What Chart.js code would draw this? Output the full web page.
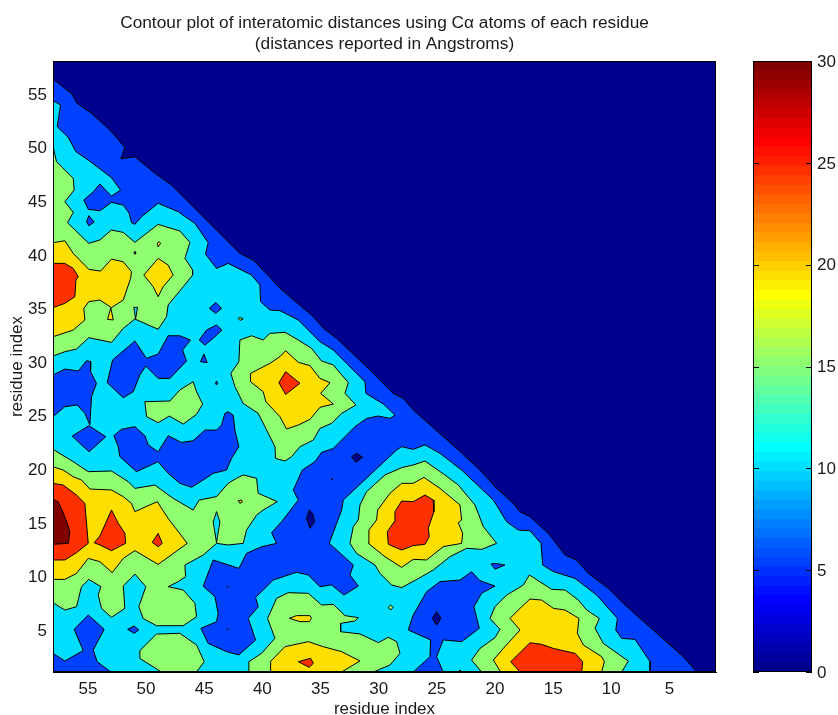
<!DOCTYPE html>
<html>
<head>
<meta charset="utf-8">
<title>Contour plot</title>
<script src="https://cdn.jsdelivr.net/npm/chart.js@4"></script>
<style>
   body { margin: 0; background: #fff; }
   #contour { position: absolute; left: 0; top: 0; }
   #colorbar { position: absolute; left: 720px; top: 0; }
</style>
</head>
<body>
<canvas id="contour" width="838" height="715"></canvas>
<canvas id="colorbar" width="118" height="715"></canvas>
<script>
// contour outlines, [residue x, residue y]
const plotArea = [[58,1],[1,1],[1,58],[58,58]];

const blueMain = [[58,56.31],[56.41,54.98],[55.98,54.11],[54.69,53.11],[53.11,51.56],[51.82,49.94],[52.16,48.88],[50.96,49.07],
   [49.24,47.52],[47.81,46.43],[45.37,43.78],[41.93,40.05],[40.79,39.43],[39.35,37.82],[38.49,36.79],[35.62,34.15],[34.76,33.06],
   [33.62,32.13],[31.04,29.48],[28.75,26.99],[27.89,26.53],[27.03,25.44],[23.3,21.86],[21.29,19.84],[19.86,18.13],[18.42,16.73],
   [17.85,15.95],[16.99,15.49],[15.41,13.93],[13.98,11.91],[12.98,11.44],[11.97,10.2],[10.24,8.8],[8.97,7.4],[7.53,6],[3.81,2.43],
   [2.66,1],[58,1]];

const cyanMain = [[58,54.3],[57.35,53.89],[57.64,51.87],[56.69,50.87],[56.03,49.54],[54.97,48.76],[52.97,47.11],[52.19,45.96],
   [52.97,45.4],[53.97,46.52],[54.54,45.8],[55.35,45.03],[54.97,44.16],[53.97,44.03],[52.97,44.81],[51.96,44.56],[51.45,43.78],
   [51.25,42.91],[50.96,42.76],[50.39,43.47],[48.96,44.72],[47.24,43.94],[45.8,42.85],[44.66,41.05],[44.89,39.99],[43.94,38.65],
   [42.94,39.12],[40.93,38.03],[40.21,37.1],[40.16,35.55],[39.35,34.77],[38.49,34.71],[36.91,33.84],[35.05,31.81],[33.9,31.04],
   [32.76,29.79],[31.18,28.08],[31.1,26.99],[29.6,26],[28.6,24.97],[29.03,24.66],[30.03,24.88],[31.04,24.66],[32.04,23.89],
   [32.9,22.95],[33.9,21.86],[34.91,21.49],[35.48,20.62],[36.57,19.84],[37.34,17.98],[36.91,17.05],[38.35,15.02],[39.21,13.99],
   [38.78,13],[40.07,12.69],[41.36,12.07],[42.02,10.67],[44.23,11.45],[45.09,9],[44.08,8.03],[43.8,6.47],[43.94,5.69],[45.29,5.07],
   [44.66,3.67],[43.08,2.9],[42.02,2.59],[40.58,3.98],[41.21,6],[40.35,7.09],[40.58,7.96],[39.06,9.58],[37.06,10.3],[36.05,10.05],
   [35.05,8.96],[34.05,9.12],[32.99,8.18],[31.75,9.02],[32.47,10.05],[32.18,10.98],[34.25,13],[33.19,16.11],[33.04,17.05],
   [28.46,21.71],[28.03,22.02],[27.03,21.77],[26.02,22.18],[24.73,21.4],[22.87,19.84],[21.29,18.22],[20.14,17.04],[19,15.02],
   [17.99,14.24],[16.99,14.18],[16.05,13],[15.9,10.98],[14.98,10.36],[13.12,9.73],[11.26,8.18],[9.48,6],[9.62,4.91],[9.11,4.14],
   [7.96,4.04],[6.67,1.96],[6.67,1],[58,1]];

const blueEdge = [[58,28.71],[56.98,29.26],[55.83,29.08],[55.12,30.04],[54.74,29.95],[54.77,29.02],[54.26,27.93],[54.69,26.68],
   [54.83,24.04],[55.26,25.13],[55.92,25.91],[56.98,25.75],[58,24.82]];
const blueDiamond = [[54.92,23.98],[53.46,22.95],[54.89,21.55],[55.55,22.18],[56.35,23.01]];
const blueButterfly = [[53.34,27.99],[52.88,30.1],[50.96,31.88],[49.96,30.26],[48.96,30.66],[48.1,32.37],[47.09,32.37],[46.18,31.97],
   [46.86,31.04],[46.52,30.01],[47.95,28.39],[48.96,28.39],[50.02,29.54],[50.53,28.71],[51.1,27.15],[51.96,26.59]];
const blueSpot1 = [[44.57,34.92],[44,35.48],[43.51,34.92],[44,34.46]];
const blueSpot2 = [[45.43,31.97],[44.8,32.9],[43.94,33.37],[43.48,32.9],[44.23,32.13],[44.94,31.5]];
const blueSpot3 = [[45.32,29.95],[45.03,30.66],[44.74,29.86]];
const blueSpot4 = [[44.03,27.93],[43.94,28.15],[43.85,27.93],[43.94,27.77]];
const blueSpot5 = [[55.12,43],[54.92,43.57],[54.46,42.97],[54.92,42.63]];
const blueSpot6 = [[51.59,4.98],[51.02,5.29],[50.62,4.92],[51.02,4.61]];
const blueSpot7 = [[20.34,11.07],[20,11.13],[19.14,10.98],[20,10.6]];
const blueSpot8 = [[23.16,1],[23.01,1.19],[22.87,1]];
const blueBasin = [[52.77,23.05],[52.11,23.64],[50.96,23.89],[50.1,23.05],[49.81,22.18],[48.96,21.55],[48.1,23.05],[46.95,22.42],
   [45.95,22.58],[44.94,23.57],[43.94,23.57],[43.51,24.04],[43.22,25.13],[42.94,25.28],[42.51,24.97],[42.36,23.57],[42.02,22.02],
   [42.65,20.93],[43.08,19.84],[44.23,19.53],[45.09,18.91],[46.09,18.23],[47.09,18.6],[48.1,19.53],[48.96,20.62],[50.82,19.69],
   [52.25,21.09],[52.39,22.02]];
const blueCorner = [[58,2.74],[56.98,2.03],[55.4,3],[56.18,4.98],[54.97,6.32],[53.6,4.98],[54.54,3.05],[54.2,1.96],[53.02,1],[58,1]];
const blueBottom = [[22.01,10.36],[21.29,9.52],[20,9.02],[21.15,8.34],[21.81,7.09],[21.35,5.07],[22.87,3.83],[24.45,3.99],[25.02,2.43],
   [24.45,1],[27.03,1],[25.59,2.43],[25.54,3.99],[27.46,4.92],[27.03,6.32],[25.88,8.49],[24.73,9.43],[23.01,9.58]];

const navySpot1 = [[32.33,21.09],[31.9,21.4],[31.38,21.03],[31.96,20.56]];
const navySpot2 = [[36.2,15.34],[35.97,16.11],[35.68,15.8],[35.51,15.02],[35.91,14.4]];
const navySpot3 = [[25.02,6.63],[24.65,6.01],[25.02,5.38],[25.39,6.01]];
const navySpot4 = [[34.05,18.97],[34,19.03],[33.95,18.97],[34,18.91]];
const navySpot5 = [[43.05,8.96],[43,9.02],[42.95,8.96],[43,8.9]];
const navySpot6 = [[43.05,4.98],[43,5.04],[42.95,4.98],[43,4.92]];

const greenUpper = [[58,50.07],[57.7,48.6],[56.26,47.05],[56.18,45.96],[56.98,44.87],[56.26,43.88],[56.75,42.91],[54.92,40.99],[53.97,41.3],
   [52.97,42.23],[51.96,42.01],[50.96,41.08],[48.96,42.76],[47.09,42.14],[46.23,41.08],[46.66,39.59],[46,38.5],[46,38.03],[46.8,36.95],
   [48.1,35.24],[48.24,34.15],[48.96,32.97],[50.96,33.93],[51.96,33.06],[52.97,31.75],[54.92,32.19],[55.98,31.13],[56.98,30.88],[58,30.48]];
const greenIsland = [[50.1,26.22],[47.95,26.28],[47.09,27.31],[45.95,28.08],[45.66,27.15],[45.14,26],[45.66,25.04],[46.8,24.13],[48,24.88],
   [48.96,24.26],[49.96,24.82]];
const greenLower = [[58,21.77],[56.26,20.62],[54.97,19.69],[52.97,19.75],[51.53,18.75],[50.96,18.13],[49.24,18.44],[47.67,17.2],[45.95,16.11],
   [45.43,17.04],[43.94,17.36],[42.94,18.6],[42.22,19.07],[41.65,19.38],[40.5,19.07],[40.36,17.67],[38.72,16.89],[39.93,16.11],[40.5,15.64],
   [41.36,14.25],[41.65,13],[42.94,12.85],[43.94,13],[45.09,11.91],[46.66,10.98],[46.6,9.89],[47.24,9.43],[48.1,8.96],[46.81,8.65],[45.8,7.41],
   [45.66,6.16],[46.81,5.32],[48.1,5.32],[49.1,5.32],[50.25,6],[50.62,7.09],[50.02,8.96],[50.96,10.14],[51.96,9.02],[51.82,6.94],[52.97,6.1],
   [53.83,6.94],[54.11,8.18],[53.88,8.96],[54.92,9.64],[55.55,8.96],[55.98,7.09],[56.98,6.78],[58,7.47]];
const greenBase = [[50.53,2.99],[49.1,4.54],[47.09,4.61],[45.66,3.52],[45,1.96],[45.66,1],[48.67,1],[50.53,2.27]];
const greenPeakA = [[39.93,31.97],[40.93,32.37],[41.93,31.97],[42.02,29.95],[42.71,28.86],[42.36,27.62],[41.65,26.06],[40.36,25.13],[39.78,23.89],
   [38.92,22.02],[38.87,20.93],[38.06,20.68],[37.49,21.09],[36.77,22.02],[35.62,22.64],[35.05,23.73],[34.05,24.2],[33.19,25.13],[31.96,25.91],
   [32.9,27],[32.61,27.99],[33.9,29.64],[34.91,30.01],[35.77,31.19],[36.91,31.97],[38.06,32.69],[39.35,32.59]];
const greenPeakB = [[26.02,20.68],[24.3,19.38],[23.16,18.44],[21.72,16.58],[21,14.56],[19.86,13],[21.15,12.44],[22.44,12.54],[23.87,11.76],[25.31,10.52],
   [26.31,9.89],[28.03,8.87],[28.89,9.12],[29.89,10.21],[30.32,10.98],[31.9,12.07],[32.47,13],[32.18,14.56],[31.75,15.18],[31.61,16.58],[31.04,17.82],
   [29.46,19.38],[28.03,20.06],[27.03,20.31]];
const greenPeakC = [[41.16,1],[41.16,1.96],[40.07,2.74],[38.92,4.14],[39.55,6],[38.78,7.87],[37.77,8.4],[36.05,8.34],[34.91,7.25],[33.9,7.31],[32.9,6.26],
   [31.75,6.07],[32.04,5.76],[33.27,5.54],[33.27,4.76],[31.61,4.55],[30.03,3.74],[29.17,4.24],[28.46,3.83],[28.17,2.74],[29.03,1.65],[30.46,1]];
const greenPeakD = [[17.05,10.05],[15.13,8.71],[13.98,8.65],[12.84,7.71],[12.12,6.78],[11.03,6],[11.4,5.07],[10.69,3.67],[8.54,2.02],[9.11,1],[21.15,1],
   [22.01,2.12],[21.29,3.2],[20,4.2],[19.57,4.98],[20.43,6],[20,7.09],[19,8.18],[17.56,9.11]];
const greenSpot1 = [[42.08,33.99],[41.93,34.08],[41.65,33.93],[41.93,33.8]];
const greenSpot2 = [[29.17,7.03],[28.97,7.25],[28.75,7.03],[28.97,6.78]];

const cyanNotch1 = [[43.94,15.96],[43.65,15],[43.94,13.06],[44.23,15]];
const cyanNotch2 = [[51.05,35.02],[50.73,35.02],[50.9,33.93]];
const cyanSpot = [[51.02,40.2],[50.9,40.2],[50.9,40],[51.02,40]];

const yellowUpper = [[58,41.05],[56.98,41.23],[56.26,40.05],[54.92,38.56],[53.91,38.4],[52.97,39.52],[51.96,39.27],[51.25,38.34],[51.33,37.72],[51.96,35.7],
   [52.97,34.99],[53.97,35.7],[54.92,35.55],[55.35,34.92],[55.26,33.84],[56.26,32.9],[58,32.28]];
const yellowSpike = [[53.31,33.9],[53.03,34.99],[52.82,33.84]];
const yellowKite = [[50.19,38.03],[48.96,39.59],[48.1,38.96],[47.67,38.03],[48.53,36.95],[48.96,36.01],[49.39,36.95]];
const yellowSpot1 = [[49.04,40.99],[48.87,41.14],[48.75,40.99],[48.96,40.67]];
const yellowSpot2 = [[42.08,16.98],[41.79,17.04],[41.73,16.86],[41.93,16.73]];
const yellowPeakA = [[38,30.97],[36.91,29.89],[35.91,29.58],[35.05,28.39],[34.19,27.99],[34.99,26.99],[33.9,26],[35.05,25.69],[35.91,24.57],[36.91,24.04],
   [37.92,23.67],[38.49,24.82],[39.7,26.22],[39.93,27.15],[41.02,28.08],[41.02,28.86],[39.35,29.79],[38.49,30.42]];
const yellowPeakB = [[26.11,19.16],[24.73,18.13],[23.01,16.58],[22.87,15.18],[23.16,14.93],[22.78,13.94],[22.87,13],[24.45,12.69],[25.88,11.45],[27.03,11.51],
   [28.03,10.76],[29.46,11.76],[30.89,13],[30.84,14.25],[30.18,15.18],[30.09,16.11],[29.03,17.67],[28.03,18.6],[27.03,18.6]];
const yellowLower = [[58,20.15],[57.12,19.84],[56.26,19.22],[55.55,18.91],[54.83,18.07],[52.97,17.98],[51.96,17.36],[51.25,16.73],[50.96,15.96],[49.04,16.89],
   [48.1,15.33],[46.46,13],[48.96,11.04],[50.96,12.32],[51.96,11.6],[52.91,10.27],[53.97,11.29],[54.97,11.6],[55.98,10.2],[56.98,9.64],[58,9.64]];
const yellowPeakC = [[39.29,1],[39.29,2],[38.06,3.36],[36.05,3.83],[34.76,3.36],[33.19,2.9],[31.61,2.03],[33.19,1]];
const yellowDrop = [[37.69,6.01],[37.06,6.26],[35.91,6.26],[35.77,6.01],[35.97,5.7],[36.77,5.7]];
const yellowPeakD = [[16.99,7.81],[15.99,7.71],[14.98,6.94],[13.98,6.78],[12.78,6],[12.92,4.6],[12.4,3.52],[10.83,2.43],[10.6,1.96],[10.83,1],[19.51,1],
   [20.14,2.12],[19.28,3.2],[17.85,4.92],[18.71,6],[17.71,7.09]];

const redUpper = [[58,39.12],[56.98,39.12],[56.26,38.65],[55.83,37.88],[56.03,37.57],[56.12,36.01],[56.98,35.39],[58,34.99]];
const redPeakA = [[38.58,27.99],[38,29.02],[36.77,27.93],[38,26.9]];
const redPeakB = [[26.02,17.51],[25.31,17.05],[25.25,15.96],[25.74,14.4],[25.65,13.63],[26.02,12.91],[27.03,12.79],[28.03,12.38],[29.17,12.91],[29.26,14.09],
   [28.66,15.02],[28.6,15.96],[28.03,16.95],[27.03,16.89]];
const redLeft = [[58,18.6],[57.12,18.44],[55.98,17.51],[55.26,16.73],[54.97,13],[55.98,12.13],[56.98,11.45],[58,11.45]];
const redMid = [[54.46,13.06],[53.97,13.69],[52.97,16.11],[52.39,14.87],[51.82,13.94],[51.76,13],[52.97,12.32],[53.97,12.85]];
const redSmall = [[49.47,13.1],[48.96,13.93],[48.61,13],[48.96,12.69]];
const redDrop = [[36.91,1.96],[35.85,2.28],[35.62,1.81],[35.97,1.44]];
const redPeakD = [[16.99,3.73],[15.99,3.58],[14.98,3.2],[13.12,2.74],[12.46,1.96],[12.55,1],[17.85,1],[18.65,1.96]];
const darkRedCore = [[58,17.11],[57.55,16.89],[56.98,15.49],[56.55,14.09],[56.69,13],[58,12.91]];

// paint order, later ones go on top
const regions = [
   [0, plotArea], [5, blueMain], [10, cyanMain],
   [5, blueEdge], [5, blueDiamond], [5, blueButterfly], [5, blueSpot1], [5, blueSpot2], [5, blueSpot3], [5, blueSpot4], [5, blueSpot5],
   [5, blueSpot6], [5, blueSpot7], [5, blueSpot8], [5, blueBasin], [5, blueCorner], [5, blueBottom],
   [0, navySpot1], [0, navySpot2], [0, navySpot3], [0, navySpot4], [0, navySpot5], [0, navySpot6],
   [15, greenUpper], [15, greenIsland], [15, greenLower], [15, greenBase], [15, greenPeakA], [15, greenPeakB], [15, greenPeakC], [15, greenPeakD],
   [15, greenSpot1], [15, greenSpot2],
   [10, cyanNotch1], [10, cyanNotch2], [10, cyanSpot],
   [20, yellowUpper], [20, yellowSpike], [20, yellowKite], [20, yellowSpot1], [20, yellowSpot2], [20, yellowPeakA], [20, yellowPeakB], [20, yellowLower],
   [20, yellowPeakC], [20, yellowDrop], [20, yellowPeakD],
   [25, redUpper], [25, redPeakA], [25, redPeakB], [25, redLeft], [25, redMid], [25, redSmall], [25, redDrop], [25, redPeakD],
   [30, darkRedCore],
];

const levelColors = { 0: "#00008f", 5: "#0040ff", 10: "#00dfff", 15: "#8fff70", 20: "#ffdf00", 25: "#ff3000", 30: "#800000" };

const xTickValues = [5, 10, 15, 20, 25, 30, 35, 40, 45, 50, 55];
const yTickValues = [5, 10, 15, 20, 25, 30, 35, 40, 45, 50, 55];
const colorbarTicks = [0, 5, 10, 15, 20, 25, 30];
const colorbarEdges = [0,0.47,0.94,1.41,1.88,2.34,2.81,3.28,3.75,4.22,4.69,5.16,5.63,6.09,6.56,7.03,7.5,7.97,8.44,8.91,9.38,9.84,10.31,10.78,11.25,11.72,
   12.19,12.66,13.13,13.59,14.06,14.53,15,15.47,15.94,16.41,16.88,17.34,17.81,18.28,18.75,19.22,19.69,20.16,20.63,21.09,21.56,22.03,22.5,22.97,23.44,23.91,
   24.38,24.84,25.31,25.78,26.25,26.72,27.19,27.66,28.13,28.59,29.06,29.53,30];

const fontName = '"Liberation Sans", Arial, sans-serif';
const labelColor = "#1a1a1a";

function jetColor(i) {
   const clamp = (v) => Math.round(Math.max(0, Math.min(1, v)) * 255);
   const t = (i + 1) / 16;
   return `rgb(${clamp(Math.min(t - 1.5, 4.5 - t))},${clamp(Math.min(t - 0.5, 3.5 - t))},${clamp(Math.min(t + 0.5, 2.5 - t))})`;
}

const framePlugin = {
   id: "frame",
   afterDraw(chart) {
      const { ctx, chartArea: a } = chart;
      ctx.save();
      ctx.strokeStyle = "#000";
      ctx.lineWidth = 1;
      ctx.strokeRect(a.left + 0.5, a.top + 0.5, a.right - a.left - 1, a.bottom - a.top - 1);
      ctx.restore();
   },
};

// the colorbar has short ticks pointing in from both sides
const insideTicksPlugin = {
   id: "insideTicks",
   afterDraw(chart) {
      const { ctx, chartArea: a, scales } = chart;
      ctx.save();
      ctx.strokeStyle = "#000";
      ctx.lineWidth = 1;
      ctx.beginPath();
      for (const v of colorbarTicks) {
         const y = Math.round(scales.y.getPixelForValue(v)) + 0.5;
         ctx.moveTo(a.left, y);
         ctx.lineTo(a.left + 6, y);
         ctx.moveTo(a.right - 6, y);
         ctx.lineTo(a.right, y);
      }
      ctx.stroke();
      ctx.restore();
   },
};

function tickOptions(values) {
   return {
      afterBuildTicks: (scale) => {
         scale.ticks = values.map((v) => ({ value: v }));
      },
   };
}

new Chart(document.getElementById("contour"), {
   type: "scatter",
   data: {
      // chart.js puts the first dataset on top, so the paint order is reversed
      datasets: regions.slice().reverse().map(([level, points]) => ({
         data: points.concat([points[0]]).map(([x, y]) => ({ x: x, y: y })),
         showLine: true,
         fill: "shape",
         tension: 0,
         pointRadius: 0,
         borderColor: "#000",
         borderWidth: 1,
         backgroundColor: levelColors[level],
      })),
   },
   options: {
      responsive: false,
      animation: false,
      events: [],
      layout: { padding: { left: 0, right: 122, top: 0, bottom: 0 } },
      plugins: {
         legend: { display: false },
         tooltip: { enabled: false },
         title: {
            display: true,
            fullSize: false,
            text: ["Contour plot of interatomic distances using C\u03b1 atoms of each residue", "(distances reported in Angstroms)"],
            color: labelColor,
            font: { family: fontName, size: 17.3, weight: "normal", lineHeight: 1.214 },
            padding: { top: 13, bottom: 6 },
         },
      },
      scales: {
         x: {
            type: "linear",
            reverse: true,
            min: 1,
            max: 58,
            ...tickOptions(xTickValues),
            afterFit: (scale) => { scale.height = 43; },
            grid: { display: false, drawTicks: false },
            border: { color: "#000" },
            ticks: { color: labelColor, font: { family: fontName, size: 17 }, padding: 7, maxRotation: 0, autoSkip: false },
            title: { display: true, text: "residue index", color: labelColor, font: { family: fontName, size: 17 }, padding: { top: 0, bottom: -5 } },
         },
         y: {
            type: "linear",
            min: 1,
            max: 58,
            ...tickOptions(yTickValues),
            afterFit: (scale) => { scale.width = 53; },
            grid: { display: false, drawTicks: false },
            border: { color: "#000" },
            ticks: { color: labelColor, font: { family: fontName, size: 17 }, padding: 6, labelOffset: 2, autoSkip: false },
            title: { display: true, text: "residue index", color: labelColor, font: { family: fontName, size: 17 }, padding: { top: 7, bottom: 0 } },
         },
      },
   },
   plugins: [framePlugin],
});

new Chart(document.getElementById("colorbar"), {
   type: "bar",
   data: {
      labels: [""],
      datasets: colorbarEdges.slice(1).map((top, i) => ({
         data: [[0, top]],
         backgroundColor: jetColor(i),
         barPercentage: 1,
         categoryPercentage: 1,
      })),
   },
   options: {
      responsive: false,
      animation: false,
      events: [],
      grouped: false,
      layout: { padding: { left: 33, right: 0, top: 61, bottom: 43 } },
      plugins: { legend: { display: false }, tooltip: { enabled: false } },
      scales: {
         x: { display: false },
         y: {
            position: "right",
            min: 0,
            max: 30,
            ...tickOptions(colorbarTicks),
            afterFit: (scale) => { scale.width = 26; },
            grid: { display: false, drawTicks: false },
            border: { display: false },
            ticks: { color: labelColor, font: { family: fontName, size: 17 }, padding: 5, labelOffset: 1, autoSkip: false },
         },
      },
   },
   plugins: [framePlugin, insideTicksPlugin],
});
</script>
</body>
</html>
